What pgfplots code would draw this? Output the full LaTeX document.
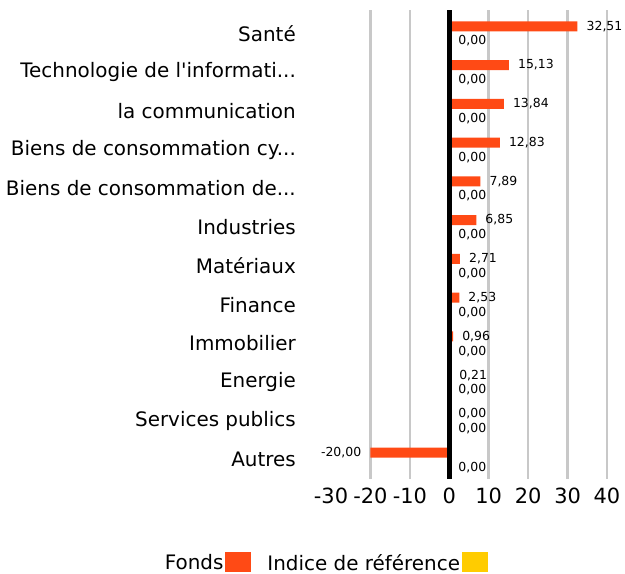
\documentclass[border=0pt]{standalone}
\usepackage{pgfplots}
\pgfplotsset{compat=1.18}
\usepackage{fontspec}
\setmainfont{DejaVu Sans}
\definecolor{fonds}{HTML}{FF4A15}
\definecolor{indice}{HTML}{FFCC00}
\definecolor{gridc}{HTML}{C8C8C8}
\newcommand{\trois}{.\kern0pt.\kern0pt.}
\begin{document}
\begin{tikzpicture}
\begin{axis}[
  scale only axis,
  width=276bp, height=469bp,
  at={(331bp,-479bp)}, anchor=south west,
  xmin=-30, xmax=40,
  ymin=-0.6, ymax=11.5,
  y dir=reverse,
  axis line style={draw=none},
  major tick length=0pt,
  xtick={-20,-10,0,10,20,30,40},
  extra x ticks={-30},
  extra x tick style={grid=none},
  xmajorgrids,
  major grid style={gridc, line width=2.5bp},
  xticklabel style={inner sep=0pt, yshift=-9bp, font=\fontsize{21}{25}\selectfont},
  /pgf/number format/assume math mode=true,
  ytick={0,1,2,3,4,5,6,7,8,9,10,11},
  yticklabels={Santé,{Technologie de l\textquotesingle informati\trois},la communication,{Biens de consommation cy\trois},{Biens de consommation de\trois},Industries,Matériaux,Finance,Immobilier,Energie,Services publics,Autres},
  yticklabel style={inner sep=0pt, anchor=east, xshift=-35bp, font=\fontsize{20}{24}\selectfont},
  xbar, bar width=10bp, bar shift=0pt,
  nodes near coords,
  nodes near coords align={horizontal},
  every node near coord/.append style={font=\fontsize{12.5}{14}\selectfont, inner xsep=9bp, inner ysep=0pt, text=black},
  point meta=x,
  nodes near coords={\pgfmathprintnumber[fixed, fixed zerofill, precision=2, use comma, assume math mode=true]{\pgfplotspointmeta}},
  legend columns=2,
  legend plot pos=right,
  legend style={draw=none, fill=none, at={(-0.02,-0.179)}, anchor=center,
    font=\fontsize{20}{24}\selectfont,
    /tikz/every even column/.append style={column sep=14bp}},
]
\addplot+[fill=fonds, draw=none, legend image code/.code={\path (0bp,-9bp) rectangle (26bp,11bp); \fill[fonds] (6bp,-9bp) rectangle (26bp,11bp);}] coordinates {
 (32.51,-0.18) (15.13,0.82) (13.84,1.82) (12.83,2.82) (7.89,3.82) (6.85,4.82)
 (2.71,5.82) (2.53,6.82) (0.96,7.82) (0.21,8.82) (0.00,9.82) (-20.00,10.82)};
\addlegendentry{Fonds}
\addplot+[fill=indice, draw=none, legend image code/.code={\path (0bp,-9bp) rectangle (26bp,11bp); \fill[indice] (6bp,-9bp) rectangle (26bp,11bp);}] coordinates {
 (0,0.2) (0,1.2) (0,2.2) (0,3.2) (0,4.2) (0,5.2)
 (0,6.2) (0,7.2) (0,8.2) (0,9.2) (0,10.2) (0,11.2)};
\addlegendentry{Indice de référence}
\draw[black, line width=4.5bp] (axis cs:0,-0.6) -- (axis cs:0,11.5);
\end{axis}
\pgfresetboundingbox
\path[use as bounding box] (0,0) rectangle (625bp,-574bp);
\end{tikzpicture}
\end{document}
